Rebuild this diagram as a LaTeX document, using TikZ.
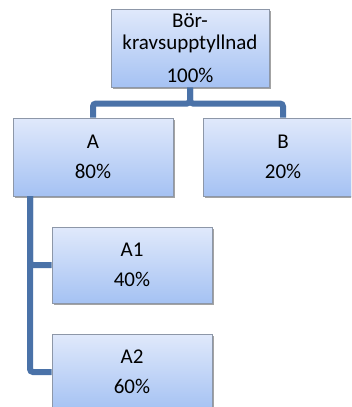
\documentclass[tikz,border=0pt]{standalone}
\usepackage{fontspec}
\setmainfont{Carlito}
\usetikzlibrary{shadows}
\definecolor{boxtop}{HTML}{E0E9FB}
\definecolor{boxbot}{HTML}{A5C2F3}
\definecolor{boxrim}{HTML}{8D97A8}
\definecolor{linkblue}{HTML}{4A72A8}
\begin{document}
\begin{tikzpicture}[x=1pt,y=-1pt,
    unit/.style={rectangle,draw=boxrim,line width=1pt,top color=boxtop,bottom color=boxbot,
      minimum width=160pt,minimum height=78pt,align=center,
      font=\fontsize{21}{22.5}\selectfont,
      drop shadow={shadow xshift=1.5pt,shadow yshift=-1.5pt,fill=black!45,opacity=0.8}},
    link/.style={draw=linkblue,line width=6pt,rounded corners=3pt}]
     % Frame
     \useasboundingbox (0,0) rectangle (351,407);
     \clip (0,0) rectangle (351,407);
     % Boxes
     \node[unit,minimum width=158pt] (root) at (190,48) {Bör-\\kravsupptyllnad\\[10pt]100\%};
     \node[unit] (A) at (93,157) {A\\[7pt]80\%};
     \node[unit] (B) at (283,157) {B\\[7pt]20\%};
     \node[unit,minimum height=76pt] (A1) at (132,265) {A1\\[7pt]40\%};
     \node[unit,minimum height=76pt] (A2) at (132,372) {A2\\[7pt]60\%};
     % Links
     \coordinate (trunk) at (30,196);
     \draw[link] (root.south) -- ++(0,16) -| (A.north);
     \draw[link] (root.south) -- ++(0,16) -| (B.north);
     \draw[link] (trunk) |- (A1.west);
     \draw[link] (trunk) |- (A2.west);
\end{tikzpicture}
\end{document}
